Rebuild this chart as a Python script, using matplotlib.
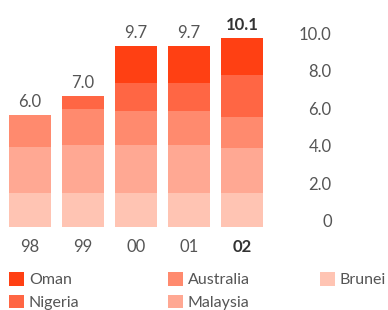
import matplotlib.pyplot as plt
from matplotlib.patches import Patch

plt.rcParams['font.family'] = ['Lato', 'DejaVu Sans']

years = ['98', '99', '00', '01', '02']
brunei = [1.8, 1.8, 1.8, 1.8, 1.8]
malaysia = [2.5, 2.6, 2.6, 2.6, 2.4]
australia = [1.7, 1.9, 1.8, 1.8, 1.7]
nigeria = [0.0, 0.7, 1.5, 1.5, 2.2]
oman = [0.0, 0.0, 2.0, 2.0, 2.0]
totals = ['6.0', '7.0', '9.7', '9.7', '10.1']

series = [('Brunei', brunei, '#ffc4b3'),
          ('Malaysia', malaysia, '#ffa893'),
          ('Australia', australia, '#ff8a6e'),
          ('Nigeria', nigeria, '#ff6644'),
          ('Oman', oman, '#ff4013')]

fig = plt.figure(figsize=(3.88, 3.10), dpi=100)
ax = fig.add_axes([0, 83 / 310, 272 / 388, 217 / 310])

x = list(range(len(years)))
bottom = [0.0] * len(years)
bars = None
for name, vals, col in series:
    bars = ax.bar(x, vals, 0.79, bottom=bottom, color=col, linewidth=0)
    bottom = [b + v for b, v in zip(bottom, vals)]

# totals above the bars
labels = ax.bar_label(bars, labels=totals, padding=3.5, fontsize=12, color='#555555')
labels[-1].set_fontweight('bold')
labels[-1].set_color('#333333')

ax.set_xlim(-0.566, 4.566)
ax.set_ylim(0, 11.6)
ax.set_xticks(x)
ax.set_xticklabels(years, fontsize=12, color='#555555')
ax.get_xticklabels()[-1].set_fontweight('bold')
ax.get_xticklabels()[-1].set_color('#333333')

ax.yaxis.tick_right()
ax.set_yticks([0, 2, 4, 6, 8, 10])
ax.set_yticklabels(['0', '2.0', '4.0', '6.0', '8.0', '10.0'], fontsize=12, color='#555555')
for t in ax.get_yticklabels():
    t.set_ha('right')
    t.set_va('baseline')
ax.tick_params(axis='y', length=0, pad=43)
ax.tick_params(axis='x', length=0, pad=9)
for s in ax.spines.values():
    s.set_visible(False)

# legend, three columns
cols = [[('Oman', '#ff4013'), ('Nigeria', '#ff6644')],
        [('Australia', '#ff8a6e'), ('Malaysia', '#ffa893')],
        [('Brunei', '#ffc4b3')]]
xs = [9, 168, 320]
for xp, items in zip(xs, cols):
    handles = [Patch(facecolor=c, edgecolor='none', label=n) for n, c in items]
    leg = fig.legend(handles=handles, loc='upper left', bbox_to_anchor=(xp / 388, 1 - 272 / 310),
                     frameon=False, fontsize=11.5, handlelength=0.95, handleheight=0.95,
                     handletextpad=0.3, labelspacing=0.45, borderpad=0, borderaxespad=0)
    for t in leg.get_texts():
        t.set_color('#555555')

fig.savefig('out.png', dpi=100)
